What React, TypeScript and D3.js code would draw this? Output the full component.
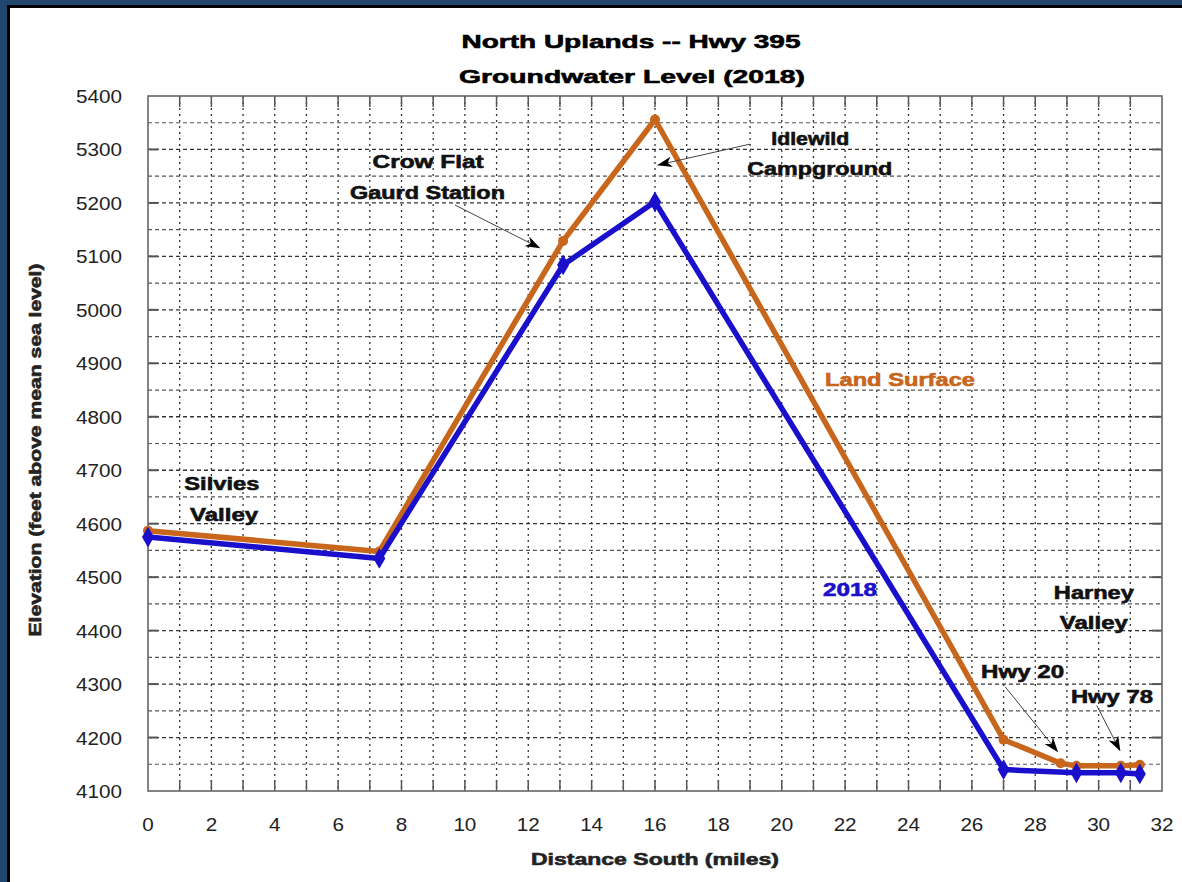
import React, { useEffect } from 'react';
import * as d3 from 'd3';

// chart values
const landMiles = [0, 7.3, 13.1, 16, 27, 28.8, 29.3, 30.7, 31.3];
const landElev = [4587, 4548, 5129, 5356, 4196, 4152, 4147, 4147, 4149];
const gwMiles = [0, 7.3, 13.1, 16, 27, 29.3, 30.7, 31.3];
const gwElev = [4575, 4535, 5084, 5202, 4140, 4134, 4134, 4132];
const xTicks = [0, 2, 4, 6, 8, 10, 12, 14, 16, 18, 20, 22, 24, 26, 28, 30, 32];
const yTicks = [4100, 4200, 4300, 4400, 4500, 4600, 4700, 4800, 4900, 5000, 5100, 5200, 5300, 5400];

// place names, anchored in data units [miles, elevation] (text centre, baseline)
const notes = [
  { text: 'Silvies', at: [2.33, 4663], len: 75 },
  { text: 'Valley', at: [2.40, 4605], len: 68 },
  { text: 'Crow Flat', at: [8.84, 5266], len: 111 },
  { text: 'Gaurd Station', at: [8.82, 5207], len: 155 },
  { text: 'Idlewild', at: [20.9, 5308], len: 78 },
  { text: 'Campground', at: [21.2, 5252], len: 145 },
  { text: 'Harney', at: [29.85, 4459], len: 80 },
  { text: 'Valley', at: [29.85, 4403], len: 68 },
  { text: 'Hwy 20', at: [27.6, 4311], len: 83 },
  { text: 'Hwy 78', at: [30.42, 4265], len: 82 },
];
const arrows = [
  { from: [9.69, 5196], to: [12.35, 5116] },
  { from: [19.0, 5310], to: [16.1, 5271] },
  { from: [27.05, 4295], to: [28.7, 4174] },
  { from: [29.94, 4260], to: [30.67, 4176] },
];

const W = 1182;
const H = 882;
const M = { left: 148, right: 1162, top: 96, bottom: 791 };
const ORANGE = '#c8661c';
const BLUE = '#1a10cc';
const FONT = 'Arial, "Liberation Sans", sans-serif';

const Txt = ({ x, y, len, size = 18, bold = true, fill = '#111', children, transform }: any) => (
  <text
    x={x}
    y={y}
    transform={transform}
    textAnchor="middle"
    fontSize={size}
    fontWeight={bold ? 'bold' : 'normal'}
    fill={fill}
    stroke={bold ? fill : 'none'}
    strokeWidth={bold ? 0.6 : 0}
    textLength={len}
    lengthAdjust="spacingAndGlyphs"
  >
    {children}
  </text>
);

export default function App() {
  useEffect(() => {
    document.body.style.margin = '0';
  }, []);

  const x = d3.scaleLinear().domain([0, 32]).range([M.left, M.right]);
  const y = d3.scaleLinear().domain([4100, 5400]).range([M.bottom, M.top]);

  const line = d3
    .line<[number, number]>()
    .x((d) => x(d[0]))
    .y((d) => y(d[1]));

  const land: [number, number][] = landMiles.map((m, i) => [m, landElev[i]]);
  const gw: [number, number][] = gwMiles.map((m, i) => [m, gwElev[i]]);
  const diamond = d3.symbol().type(d3.symbolDiamond).size(125)();

  const miles = d3.range(1, 32);
  const halves = d3.range(4150, 5400, 100);

  return (
    <svg width={W} height={H} style={{ position: 'absolute', left: 0, top: 0, display: 'block' }} fontFamily={FONT}>
      <defs>
        <marker id="head" viewBox="0 0 14 10" refX="13" refY="5" markerWidth="15" markerHeight="11" orient="auto" markerUnits="userSpaceOnUse">
          <path d="M0,0 L14,5 L0,10 L4,5 Z" fill="#000" />
        </marker>
      </defs>
      <rect x={0} y={0} width={W} height={H} fill="#22476f" />
      <rect x={7} y={5} width={W} height={H} fill="#000" />
      <rect x={10} y={8} width={W} height={H} fill="#fff" />

      {/* grid */}
      {miles.map((m) => (
        <line key={'v' + m} x1={x(m)} x2={x(m)} y1={M.top} y2={M.bottom} stroke="#333" strokeWidth={1.3} strokeDasharray="2,4" />
      ))}
      {yTicks.slice(1, -1).map((v) => (
        <line key={'h' + v} x1={M.left} x2={M.right} y1={y(v)} y2={y(v)} stroke="#333" strokeWidth={1.3} strokeDasharray="4,3" />
      ))}
      {halves.map((v) => (
        <line key={'hh' + v} x1={M.left} x2={M.right} y1={y(v)} y2={y(v)} stroke="#555" strokeWidth={1.2} strokeDasharray="4,3" />
      ))}

      {/* ticks */}
      {miles.map((m) => (
        <g key={'t' + m} stroke="#555" strokeWidth={1.5}>
          <line x1={x(m)} x2={x(m)} y1={M.bottom} y2={M.bottom - 11} />
          <line x1={x(m)} x2={x(m)} y1={M.top} y2={M.top + 11} />
        </g>
      ))}
      {yTicks.slice(1, -1).map((v) => (
        <g key={'yt' + v} stroke="#555" strokeWidth={2}>
          <line x1={M.left} x2={M.left + 10} y1={y(v)} y2={y(v)} />
          <line x1={M.right} x2={M.right - 10} y1={y(v)} y2={y(v)} />
        </g>
      ))}
      <rect x={M.left} y={M.top} width={M.right - M.left} height={M.bottom - M.top} fill="none" stroke="#666" strokeWidth={1.6} />

      {/* tick labels */}
      {xTicks.map((t) => (
        <Txt key={'xl' + t} x={x(t)} y={M.bottom + 40} len={String(t).length * 11.5} size={18.5} bold={false} fill="#222">
          {t}
        </Txt>
      ))}
      {yTicks.map((t) => (
        <Txt key={'yl' + t} x={M.left - 49} y={y(t) + 7} len={46} size={18.5} bold={false} fill="#222">
          {t}
        </Txt>
      ))}

      {/* titles */}
      <Txt x={631} y={48} len={339} size={19} fill="#000">
        North Uplands -- Hwy 395
      </Txt>
      <Txt x={632} y={83} len={346} size={19} fill="#000">
        Groundwater Level (2018)
      </Txt>
      <Txt x={655} y={865} len={248} size={17} fill="#222">
        Distance South (miles)
      </Txt>
      <Txt x={0} y={0} len={373} size={17} fill="#222" transform="translate(41,450) rotate(-90)">
        Elevation (feet above mean sea level)
      </Txt>

      {/* series */}
      <path d={line(land) || ''} fill="none" stroke={ORANGE} strokeWidth={5.5} strokeLinejoin="round" />
      {land.map((d, i) => (
        <circle key={'lc' + i} cx={x(d[0])} cy={y(d[1])} r={5} fill={ORANGE} />
      ))}
      <path d={line(gw) || ''} fill="none" stroke={BLUE} strokeWidth={5.5} strokeLinejoin="round" />
      {gw.map((d, i) => (
        <path key={'gd' + i} d={diamond || ''} transform={`translate(${x(d[0])},${y(d[1])})`} fill={BLUE} />
      ))}

      {/* annotations */}
      {notes.map((n, i) => (
        <Txt key={'n' + i} x={x(n.at[0])} y={y(n.at[1])} len={n.len}>
          {n.text}
        </Txt>
      ))}
      {arrows.map((a, i) => (
        <line key={'a' + i} x1={x(a.from[0])} y1={y(a.from[1])} x2={x(a.to[0])} y2={y(a.to[1])} stroke="#444" strokeWidth={1} markerEnd="url(#head)" />
      ))}
      <Txt x={900} y={386} len={150} fill={ORANGE}>
        Land Surface
      </Txt>
      <Txt x={850} y={596} len={54} fill={BLUE}>
        2018
      </Txt>
    </svg>
  );
}
